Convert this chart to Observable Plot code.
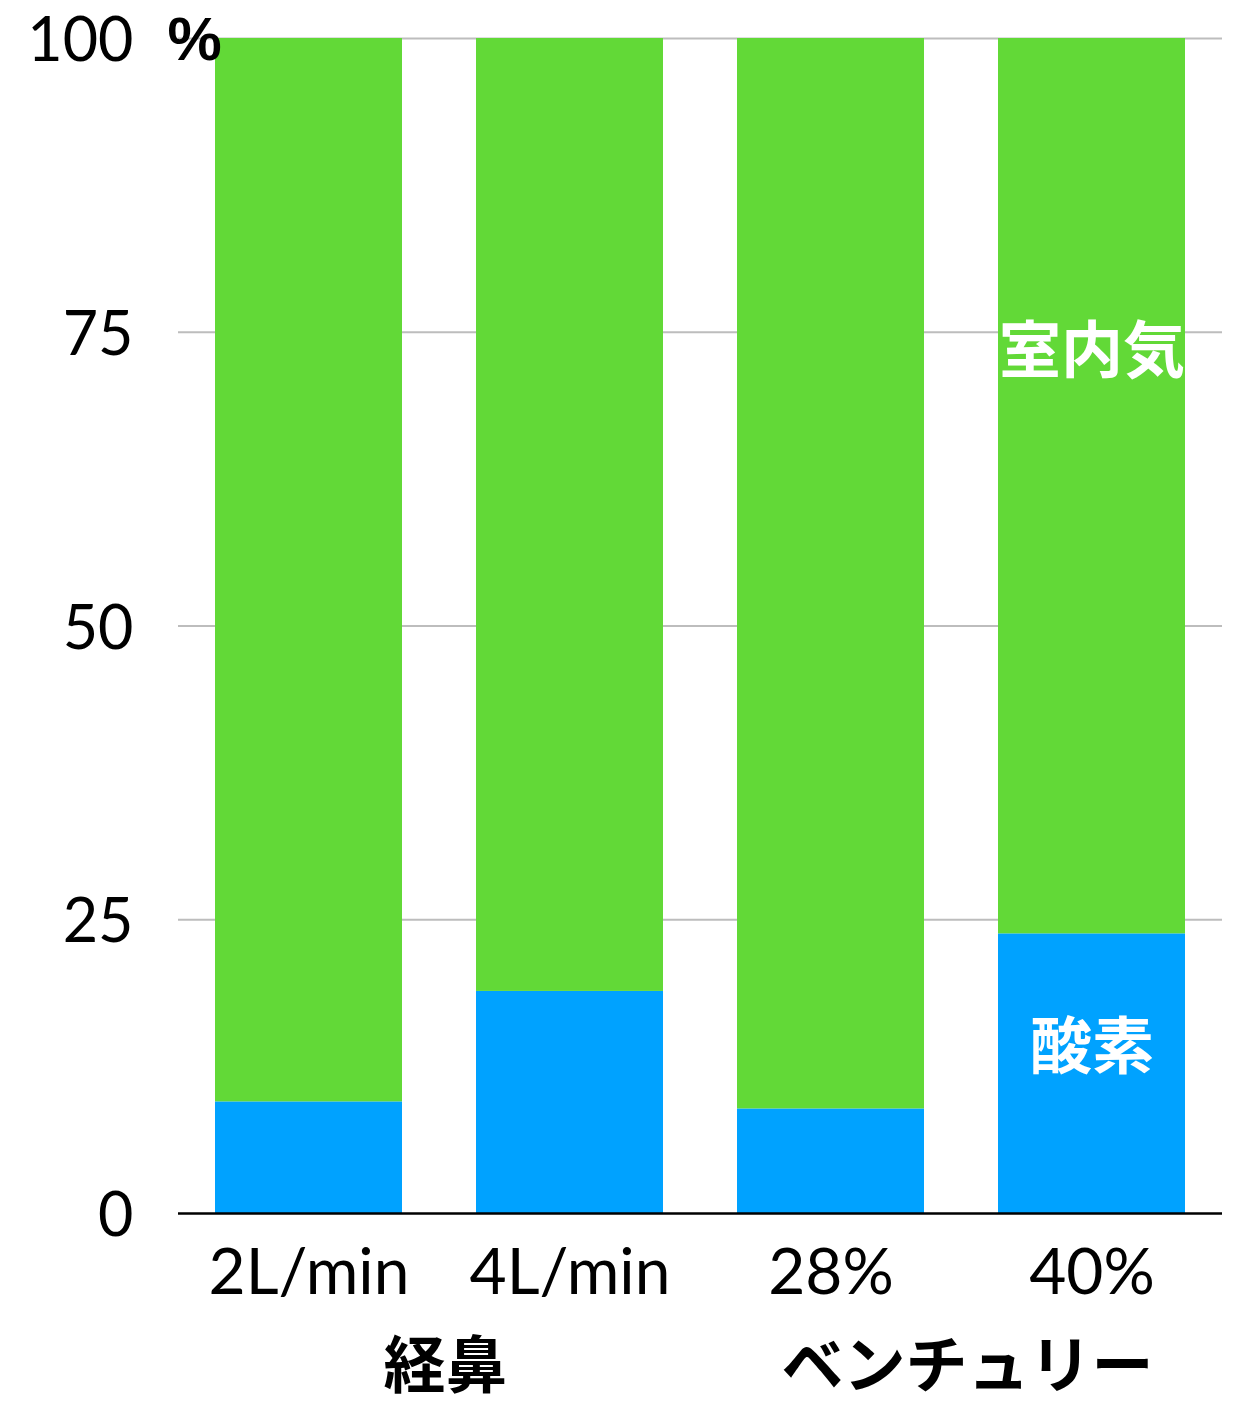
<!DOCTYPE html>
<html>
<head>
<meta charset="utf-8">
<script src="https://cdn.jsdelivr.net/npm/d3@7"></script>
<script src="https://cdn.jsdelivr.net/npm/@observablehq/plot@0.6"></script>
<style>
  html, body { margin: 0; padding: 0; background: #fff; }
  #chart { width: 1241px; height: 1407px; }
</style>
</head>
<body>
<div id="chart"></div>
<script>
// ---- data ----
const groups = ["経鼻", "経鼻", "ベンチュリー", "ベンチュリー"];
const groupNames = ["経鼻", "ベンチュリー"];
const categories = ["2L/min", "4L/min", "28%", "40%"];
const slots = ["a", "b", "a", "b"];
const oxygen = [9.5, 18.9, 8.9, 23.8];
const roomAir = [90.5, 81.1, 91.1, 76.2];
const seriesNames = ["酸素", "室内気"];
const yTicks = [0, 25, 50, 75, 100];
const yUnit = "%";

// ---- table for the library ----
const rows = [];
categories.forEach((c, i) => rows.push({group: groups[i], slot: slots[i], category: c, series: seriesNames[0], value: oxygen[i]}));
categories.forEach((c, i) => rows.push({group: groups[i], slot: slots[i], category: c, series: seriesNames[1], value: roomAir[i]}));
const cats = categories.map((c, i) => ({group: groups[i], slot: slots[i], category: c}));

// in-bar labels on the last bar
const li = 3;
const oxyLabel = [{group: groups[li], slot: slots[li], text: seriesNames[0], y: oxygen[li] / 2}];
const airLabel = [{group: groups[li], slot: slots[li], text: seriesNames[1], y: oxygen[li] + roomAir[li] / 2}];

const CJK = "'Noto Sans CJK JP', sans-serif";
const NUM = "Lato, 'Noto Sans', sans-serif";

const chart = Plot.plot({
  width: 1241,
  height: 1407,
  marginLeft: 178,
  marginRight: 19,
  marginTop: 38,
  marginBottom: 194,
  style: {background: "#fff", fontFamily: NUM, color: "#000"},
  fx: {domain: groupNames, padding: 0, axis: null},
  x: {domain: ["a", "b"], paddingInner: 0.285, paddingOuter: 0.1425, axis: null},
  y: {domain: [0, 100], axis: null},
  color: {domain: seriesNames, range: ["#00A2FF", "#62D937"]},
  marks: [
    Plot.gridY(yTicks.filter(d => d > 0), {stroke: "#bdbdbd", strokeOpacity: 1, strokeWidth: 2}),
    Plot.barY(rows, {fx: "group", x: "slot", y: "value", fill: "series", order: seriesNames}),
    Plot.ruleY([0], {stroke: "#000", strokeWidth: 2.5}),
    Plot.axisY(yTicks, {tickSize: 0, tickPadding: 45, fontSize: 61, fontFamily: NUM, label: null, dy: 3}),
    Plot.text([{group: groupNames[0], t: yUnit}], {fx: "group", frameAnchor: "top-left", text: "t", textAnchor: "middle", lineAnchor: "middle", dx: 16, dy: 2, fontSize: 61, fontWeight: "bold", fontFamily: "'Liberation Sans', Arial, sans-serif"}),
    Plot.text(cats, {fx: "group", x: "slot", text: "category", frameAnchor: "bottom", lineAnchor: "top", dy: 35, fontSize: 64, fontFamily: NUM}),
    Plot.text(groupNames, {fx: d => d, text: d => d, frameAnchor: "bottom", lineAnchor: "top", dy: 130, dx: 6, fontSize: 62, fontWeight: "bold", fontFamily: CJK}),
    Plot.text(oxyLabel, {fx: "group", x: "slot", y: "y", text: "text", fill: "#fff", fontSize: 62, fontWeight: "bold", fontFamily: CJK, dy: -25}),
    Plot.text(airLabel, {fx: "group", x: "slot", y: "y", text: "text", fill: "#fff", fontSize: 62, fontWeight: "bold", fontFamily: CJK, dy: -133})
  ]
});
document.getElementById("chart").appendChild(chart);
</script>
</body>
</html>
